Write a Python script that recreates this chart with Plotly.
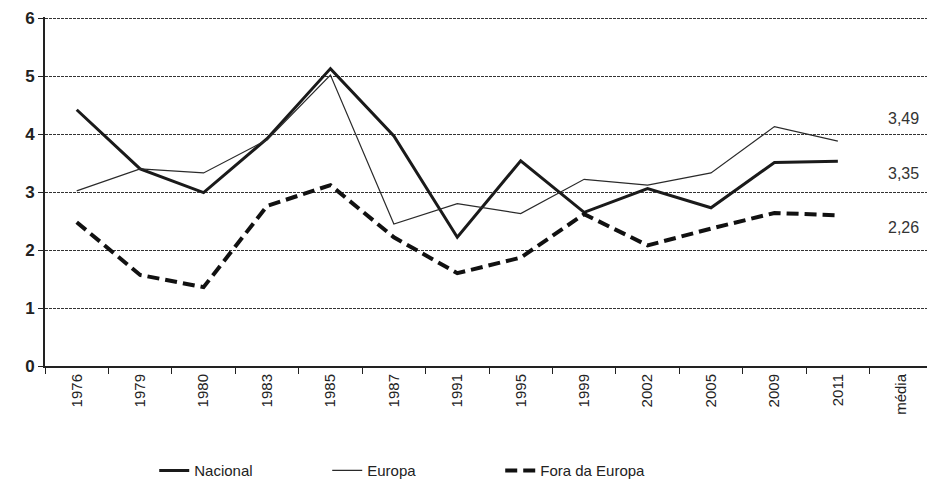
import plotly.graph_objects as go

categories = ["1976", "1979", "1980", "1983", "1985", "1987", "1991", "1995",
              "1999", "2002", "2005", "2009", "2011", "média"]
years = categories[:-1]

nacional = [4.42, 3.40, 2.99, 3.92, 5.13, 3.97, 2.22, 3.54, 2.65, 3.06, 2.73, 3.51, 3.53]
europa = [3.02, 3.40, 3.33, 3.90, 5.02, 2.45, 2.80, 2.63, 3.22, 3.12, 3.33, 4.13, 3.88]
fora = [2.48, 1.57, 1.36, 2.76, 3.12, 2.22, 1.60, 1.87, 2.62, 2.08, 2.37, 2.64, 2.60]

media_values = [3.49, 3.35, 2.26]
media_labels = ["3,49", "3,35", "2,26"]
media_shift = [45, -2, 7]

font_family = "Liberation Sans, Arial, sans-serif"

fig = go.Figure()
fig.add_trace(go.Scatter(x=years, y=nacional, mode="lines", name="Nacional",
                         line=dict(color="#1a1a1a", width=3)))
fig.add_trace(go.Scatter(x=years, y=europa, mode="lines", name="Europa",
                         line=dict(color="#2a2a2a", width=1.2)))
fig.add_trace(go.Scatter(x=years, y=fora, mode="lines", name="Fora da Europa",
                         line=dict(color="#111111", width=4, dash="12px,6px")))

for v, lab, s in zip(media_values, media_labels, media_shift):
    fig.add_annotation(x="média", y=v, text=lab, showarrow=False, yshift=s,
                       xshift=2,
                       font=dict(size=16, color="#333333", family=font_family))

# the page body adds an 8px offset, so the figure is 8px smaller and shifted
fig.update_layout(
    width=927, height=482,
    margin=dict(l=37, r=2, t=9, b=124, autoexpand=False),
    paper_bgcolor="white", plot_bgcolor="white",
    font=dict(family=font_family, color="#222222"),
    showlegend=True,
    legend=dict(orientation="h", x=0.123, xanchor="left",
                yref="container", y=0.04, yanchor="middle",
                font=dict(size=15, family=font_family),
                entrywidth=128, entrywidthmode="pixels",
                tracegroupgap=0),
)
fig.update_xaxes(
    type="category", categoryorder="array", categoryarray=categories,
    range=[-0.5, 13.5],
    showline=True, linecolor="#222222", linewidth=2,
    ticks="outside", tickson="boundaries", ticklen=6, tickcolor="#222222",
    tickangle=-90, tickfont=dict(size=15, family=font_family, color="#222222"),
    showgrid=False, zeroline=False,
)
fig.update_yaxes(
    range=[0, 6.02], tickvals=[0, 1, 2, 3, 4, 5, 6],
    showline=True, linecolor="#222222", linewidth=2,
    ticks="outside", ticklen=5, tickcolor="#222222",
    tickfont=dict(size=17, family=font_family, color="#222222", weight="bold"),
    showgrid=True, gridcolor="#333333", gridwidth=1.4, griddash="3px,1px",
    zeroline=False,
)

fig.write_html("out.html")
